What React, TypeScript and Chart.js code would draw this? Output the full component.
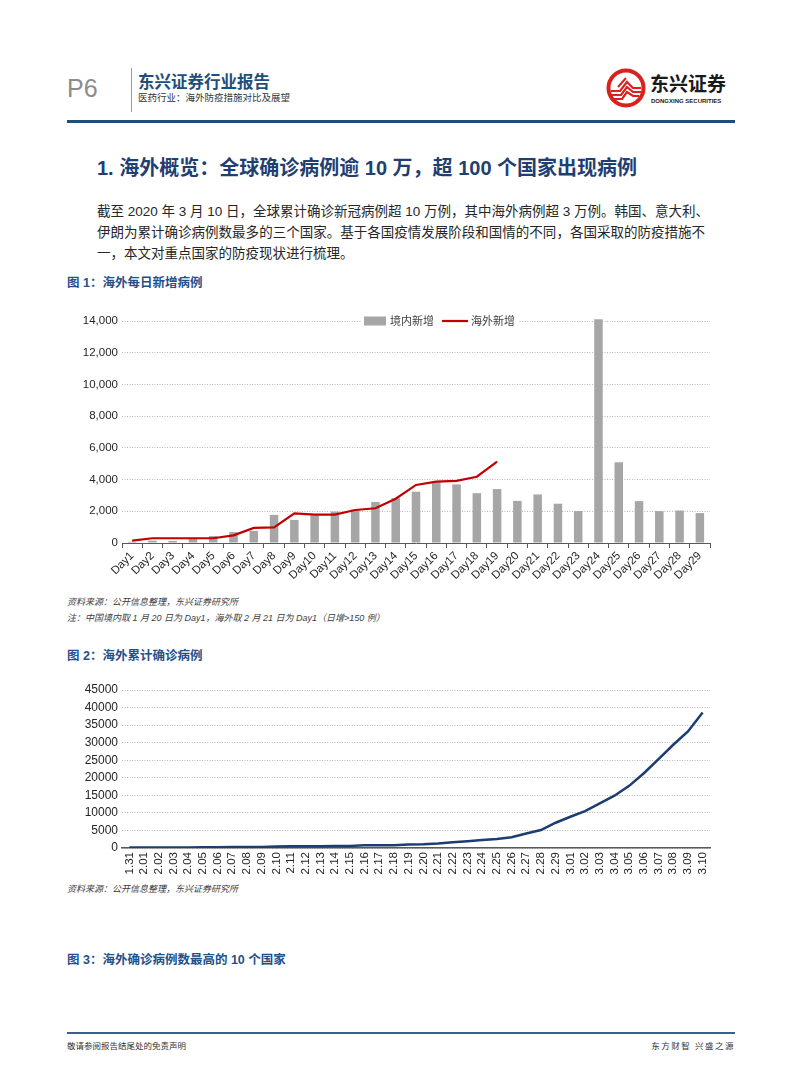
import React, { useEffect, useRef } from "react";
import { Chart, registerables } from "chart.js";

Chart.register(...registerables);

// ---------- Figure 1 data ----------
const dayLabels = [
  "Day1", "Day2", "Day3", "Day4", "Day5", "Day6", "Day7", "Day8", "Day9", "Day10",
  "Day11", "Day12", "Day13", "Day14", "Day15", "Day16", "Day17", "Day18", "Day19", "Day20",
  "Day21", "Day22", "Day23", "Day24", "Day25", "Day26", "Day27", "Day28", "Day29",
];
const domesticNew = [
  77, 149, 131, 259, 444, 688, 769, 1771, 1459, 1737,
  1982, 2102, 2590, 2829, 3235, 3887, 3694, 3143, 3399, 2656,
  3062, 2478, 2015, 14108, 5090, 2641, 2009, 2048, 1886,
];
const overseasNew = [
  150, 300, 300, 300, 300, 480, 950, 990, 1870, 1790,
  1790, 2080, 2190, 2790, 3660, 3870, 3920, 4180, 5130,
];
const dailyTickStep = 2000;
const dailyMax = 14000;

// ---------- Figure 2 data ----------
const dateLabels = [
  "1.31", "2.01", "2.02", "2.03", "2.04", "2.05", "2.06", "2.07", "2.08", "2.09",
  "2.10", "2.11", "2.12", "2.13", "2.14", "2.15", "2.16", "2.17", "2.18", "2.19",
  "2.20", "2.21", "2.22", "2.23", "2.24", "2.25", "2.26", "2.27", "2.28", "2.29",
  "3.01", "3.02", "3.03", "3.04", "3.05", "3.06", "3.07", "3.08", "3.09", "3.10",
];
const cumulativeOverseas = [
  130, 140, 150, 155, 170, 200, 220, 270, 290, 310,
  450, 480, 500, 520, 540, 560, 760, 780, 800, 1000,
  1060, 1300, 1650, 1950, 2250, 2550, 3050, 4150, 5100, 7200,
  8900, 10500, 12700, 14900, 17700, 21300, 25300, 29400, 33200, 38600,
];
const cumulativeTickStep = 5000;
const cumulativeMax = 45000;

const FONT = "'Liberation Sans', Arial, 'Noto Sans CJK SC', sans-serif";
const CJK = "'Liberation Sans', 'Noto Sans CJK SC', sans-serif";

const topLegendPlugin = {
  id: "topLegend",
  afterDatasetsDraw(chart: any) {
    const { ctx, chartArea } = chart;
    const ds = chart.data.datasets;
    const barDs = ds.find((d: any) => d.type === "bar");
    const lineDs = ds.find((d: any) => d.type === "line");
    const y = chartArea.top;
    ctx.save();
    ctx.font = `11px ${CJK}`;
    const t1 = barDs.label;
    const t2 = lineDs.label;
    const w1 = ctx.measureText(t1).width;
    const w2 = ctx.measureText(t2).width;
    const x0 = chartArea.left + 242;
    const total = 22 + 4 + w1 + 8 + 26 + 3 + w2;
    ctx.fillStyle = "#ffffff";
    ctx.fillRect(x0 - 3, y - 8, total + 6, 16);
    ctx.fillStyle = barDs.backgroundColor;
    ctx.fillRect(x0, y - 4.5, 22, 9);
    ctx.fillStyle = "#404040";
    ctx.textBaseline = "middle";
    ctx.textAlign = "left";
    ctx.fillText(t1, x0 + 26, y + 0.5);
    const lx = x0 + 26 + w1 + 8;
    ctx.strokeStyle = lineDs.borderColor;
    ctx.lineWidth = 2.2;
    ctx.beginPath();
    ctx.moveTo(lx, y);
    ctx.lineTo(lx + 26, y);
    ctx.stroke();
    ctx.fillText(t2, lx + 29, y + 0.5);
    ctx.restore();
  },
};

function DailyChart() {
  const ref = useRef<HTMLCanvasElement | null>(null);
  useEffect(() => {
    if (!ref.current) return;
    const chart = new Chart(ref.current, {
      type: "bar",
      data: {
        labels: dayLabels,
        datasets: [
          {
            type: "line",
            label: "海外新增",
            data: overseasNew,
            borderColor: "#c00000",
            backgroundColor: "#c00000",
            borderWidth: 2.2,
            pointRadius: 0,
            tension: 0,
            order: 0,
          } as any,
          {
            type: "bar",
            label: "境内新增",
            data: domesticNew,
            backgroundColor: "#a6a6a6",
            barPercentage: 0.42,
            categoryPercentage: 1,
            order: 1,
            clip: false,
          } as any,
        ],
      },
      options: {
        responsive: false,
        animation: false,
        devicePixelRatio: 1,
        layout: { padding: { top: 21, right: 15, left: 0, bottom: 0 } },
        plugins: { legend: { display: false }, tooltip: { enabled: false } },
        scales: {
          x: {
            grid: {
              display: true,
              drawOnChartArea: false,
              drawTicks: true,
              tickLength: 5,
              color: "#595959",
              offset: true,
            },
            border: { display: true, color: "#595959", width: 1 },
            ticks: {
              minRotation: 45,
              maxRotation: 45,
              autoSkip: false,
              padding: 1,
              color: "#262626",
              font: { family: FONT, size: 11.5 },
            },
            afterFit: (s: any) => {
              s.height = 42;
            },
          },
          y: {
            min: 0,
            max: dailyMax,
            ticks: {
              stepSize: dailyTickStep,
              padding: 4,
              color: "#262626",
              font: { family: FONT, size: 11.5 },
              callback: (v: any) => Number(v).toLocaleString("en-US"),
            },
            grid: { color: "#b8b8b8", drawTicks: false, lineWidth: 1 },
            border: { display: false, dash: [1, 1.5] },
            afterFit: (s: any) => {
              s.width = 55;
            },
          },
        },
      },
      plugins: [topLegendPlugin],
    });
    return () => chart.destroy();
  }, []);
  return <canvas ref={ref} width={658} height={285} style={{ position: "absolute", left: 67, top: 300 }} />;
}

function CumulativeChart() {
  const ref = useRef<HTMLCanvasElement | null>(null);
  useEffect(() => {
    if (!ref.current) return;
    const chart = new Chart(ref.current, {
      type: "line",
      data: {
        labels: dateLabels,
        datasets: [
          {
            label: "海外累计确诊病例",
            data: cumulativeOverseas,
            borderColor: "#1b3d70",
            backgroundColor: "#1b3d70",
            borderWidth: 2.5,
            pointRadius: 0,
            tension: 0,
          },
        ],
      },
      options: {
        responsive: false,
        animation: false,
        devicePixelRatio: 1,
        layout: { padding: { top: 20, right: 15, left: 0, bottom: 0 } },
        plugins: { legend: { display: false }, tooltip: { enabled: false } },
        scales: {
          x: {
            offset: true,
            grid: { display: false, drawTicks: false },
            border: { display: true, color: "#595959", width: 1.5 },
            ticks: {
              minRotation: 90,
              maxRotation: 90,
              autoSkip: false,
              padding: 4,
              color: "#262626",
              font: { family: FONT, size: 11.5 },
            },
            afterFit: (s: any) => {
              s.height = 34;
            },
          },
          y: {
            min: 0,
            max: cumulativeMax,
            ticks: {
              stepSize: cumulativeTickStep,
              padding: 4,
              color: "#262626",
              font: { family: FONT, size: 12 },
              callback: (v: any) => String(v),
            },
            grid: { color: "#b8b8b8", drawTicks: false, lineWidth: 1 },
            border: { display: false, dash: [1, 1.5] },
            afterFit: (s: any) => {
              s.width = 55;
            },
          },
        },
      },
    });
    return () => chart.destroy();
  }, []);
  return <canvas ref={ref} width={658} height={212} style={{ position: "absolute", left: 67, top: 670 }} />;
}

function Logo() {
  return (
    <svg width={40} height={40} style={{ position: "absolute", left: 606, top: 68 }} viewBox="0 0 40 40">
      <circle cx={20} cy={20} r={17.5} fill="#ffffff" stroke="#d9211e" strokeWidth={4} />
      <path d="M5 23 L14 23 L21 14 L27 20 L35 20" stroke="#d9211e" strokeWidth={2.2} fill="none" />
      <path d="M5 27 L15 27 L21 19 L27 24 L35 24" stroke="#d9211e" strokeWidth={2.2} fill="none" />
      <path d="M6 31 L16 31 L21 24 L27 28 L33 28" stroke="#d9211e" strokeWidth={2.2} fill="none" />
      <path d="M12 19 L20 10" stroke="#d9211e" strokeWidth={2} fill="none" />
    </svg>
  );
}

const abs = (o: React.CSSProperties): React.CSSProperties => ({ position: "absolute", whiteSpace: "nowrap", margin: 0, ...o });

export default function App() {
  const para: React.CSSProperties = {
    fontFamily: CJK,
    fontSize: 13.5,
    lineHeight: "21px",
    color: "#262626",
    width: 608,
  };
  const caption: React.CSSProperties = {
    fontFamily: CJK,
    fontSize: 12.5,
    fontWeight: 700,
    lineHeight: "16px",
    color: "#24508a",
  };
  const source: React.CSSProperties = {
    fontFamily: CJK,
    fontSize: 9,
    fontStyle: "italic",
    lineHeight: "12px",
    color: "#404040",
  };
  return (
    <div style={{ position: "absolute", left: 0, top: 0, width: 802, height: 1086, background: "#fff", overflow: "hidden" }}>
      {/* header */}
      <div style={abs({ left: 67, top: 73, fontFamily: FONT, fontSize: 25, lineHeight: "30px", color: "#8c8c8c" })}>P6</div>
      <div style={abs({ left: 131, top: 68, width: 1, height: 44, background: "#9a9a9a" })} />
      <div style={abs({ left: 138, top: 72, fontFamily: CJK, fontSize: 16.5, fontWeight: 700, lineHeight: "20px", color: "#1f4e79" })}>东兴证券行业报告</div>
      <div style={abs({ left: 138, top: 92, fontFamily: CJK, fontSize: 9.5, lineHeight: "12px", color: "#333" })}>医药行业：海外防疫措施对比及展望</div>
      <Logo />
      <div style={abs({ left: 650, top: 74, fontFamily: CJK, fontSize: 19, fontWeight: 700, lineHeight: "22px", color: "#1a1a1a" })}>东兴证券</div>
      <div style={abs({ left: 651, top: 97, fontFamily: FONT, fontSize: 6, fontWeight: 700, lineHeight: "8px", color: "#1a1a1a" })}>DONGXING SECURITIES</div>
      <div style={abs({ left: 67, top: 120, width: 668, height: 3, background: "#1f4e79" })} />

      {/* section title */}
      <div style={abs({ left: 97, top: 155, fontFamily: CJK, fontSize: 20, fontWeight: 700, lineHeight: "26px", color: "#1f3f73" })}>
        1. 海外概览：全球确诊病例逾 10 万，超 100 个国家出现病例
      </div>

      {/* paragraph */}
      <div style={abs({ ...para, left: 97, top: 200.5, textAlign: "justify", textAlignLast: "justify" })}>
        截至 2020 年 3 月 10 日，全球累计确诊新冠病例超 10 万例，其中海外病例超 3 万例。韩国、意大利、
      </div>
      <div style={abs({ ...para, left: 97, top: 221.5, textAlign: "justify", textAlignLast: "justify" })}>
        伊朗为累计确诊病例数最多的三个国家。基于各国疫情发展阶段和国情的不同，各国采取的防疫措施不
      </div>
      <div style={abs({ ...para, left: 97, top: 242.5 })}>一，本文对重点国家的防疫现状进行梳理。</div>

      {/* figure 1 */}
      <div style={abs({ ...caption, left: 67, top: 275 })}>图 1：海外每日新增病例</div>
      <DailyChart />
      <div style={abs({ ...source, left: 67, top: 596 })}>资料来源：公开信息整理，东兴证券研究所</div>
      <div style={abs({ ...source, left: 67, top: 612 })}>注：中国境内取 1 月 20 日为 Day1，海外取 2 月 21 日为 Day1（日增&gt;150 例）</div>

      {/* figure 2 */}
      <div style={abs({ ...caption, left: 67, top: 648 })}>图 2：海外累计确诊病例</div>
      <CumulativeChart />
      <div style={abs({ ...source, left: 67, top: 883 })}>资料来源：公开信息整理，东兴证券研究所</div>

      {/* figure 3 caption */}
      <div style={abs({ ...caption, left: 67, top: 952 })}>图 3：海外确诊病例数最高的 10 个国家</div>

      {/* footer */}
      <div style={abs({ left: 67, top: 1032, width: 668, height: 2, background: "#3d5f8a" })} />
      <div style={abs({ left: 67, top: 1040, fontFamily: CJK, fontSize: 8.5, lineHeight: "12px", color: "#333" })}>敬请参阅报告结尾处的免责声明</div>
      <div style={abs({ right: 802 - 735, top: 1040, fontFamily: CJK, fontSize: 8.5, lineHeight: "12px", letterSpacing: "1.5px", color: "#333" })}>东方财智 兴盛之源</div>
    </div>
  );
}
